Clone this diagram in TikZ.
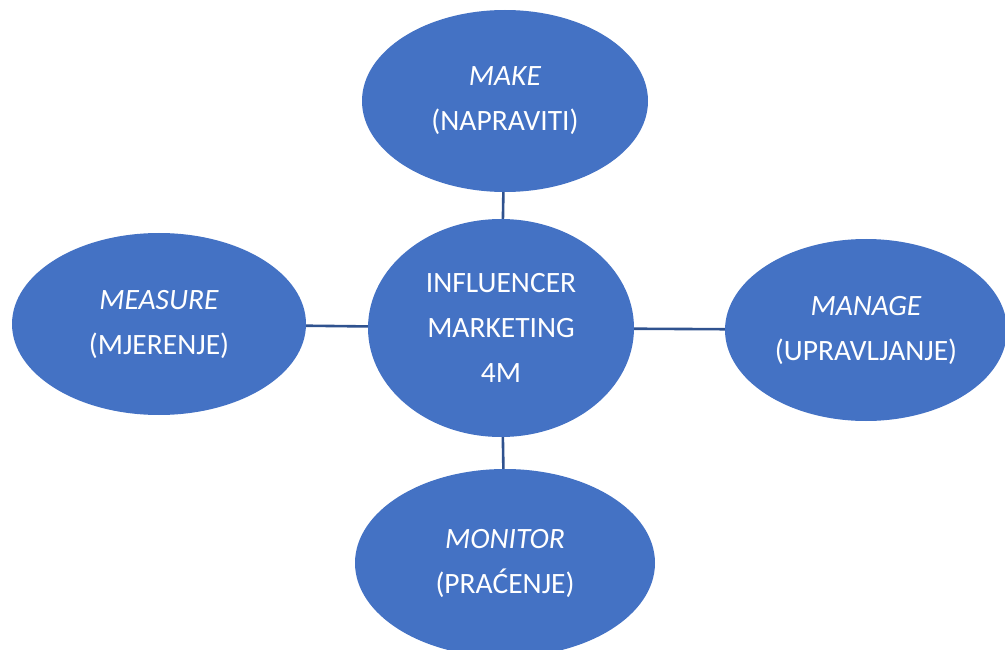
\documentclass[tikz,border=0pt]{standalone}
\usepackage{fontspec}
\setmainfont{Carlito}
\usetikzlibrary{shapes.geometric}
\definecolor{ellblue}{HTML}{4472C4}
\definecolor{linkblue}{HTML}{2F528F}
\begin{document}
\begin{tikzpicture}[x=1pt,y=-1pt,
  bub/.style={ellipse, fill=ellblue, text=white, inner sep=0pt, align=center,
    font=\fontsize{29.5}{45}\selectfont},
  link/.style={draw=linkblue, line width=2.6pt}]
\clip (0,0) rectangle (1005,650);
\node[bub, minimum width=286pt, minimum height=182pt] (make) at (505,101) {\textit{MAKE}\\(NAPRAVITI)};
\node[bub, minimum width=266pt, minimum height=218pt] (center) at (501,328) {INFLUENCER\\MARKETING\\4M};
\node[bub, minimum width=294pt, minimum height=182pt] (measure) at (159,324) {\textit{MEASURE}\\(MJERENJE)};
\node[bub, minimum width=282pt, minimum height=182pt] (manage) at (866,330) {\textit{MANAGE}\\(UPRAVLJANJE)};
\node[bub, minimum width=300pt, minimum height=188pt] (monitor) at (505,563) {\textit{MONITOR}\\(PRAĆENJE)};
\draw[link] (make) -- (center);
\draw[link] (center) -- (monitor);
\draw[link] (measure) -- (center);
\draw[link] (center) -- (manage);
\end{tikzpicture}
\end{document}
